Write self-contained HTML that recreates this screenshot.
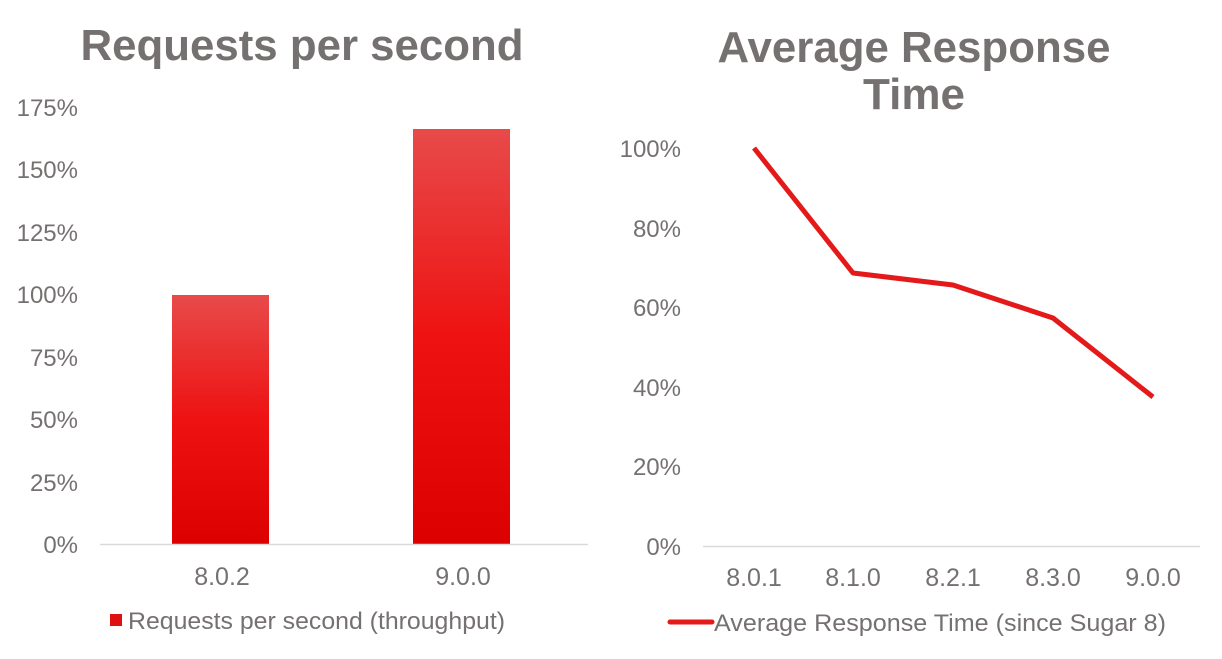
<!DOCTYPE html>
<html><head><style>
html,body{margin:0;padding:0;background:#fff;}
svg text{font-family:"Liberation Sans",Arial,sans-serif;}
</style></head><body>
<svg width="1222" height="654" viewBox="0 0 1222 654" xmlns="http://www.w3.org/2000/svg">
<defs>
<linearGradient id="g" x1="0" y1="0" x2="0" y2="1">
<stop offset="0" stop-color="#e84a4a"/>
<stop offset="0.5" stop-color="#ee1212"/>
<stop offset="1" stop-color="#dc0000"/>
</linearGradient>
</defs>
<!-- Left chart -->
<text x="302" y="60" text-anchor="middle" font-size="44" font-weight="bold" fill="#767171" textLength="443" lengthAdjust="spacingAndGlyphs">Requests per second</text>
<g font-size="24" fill="#767171" text-anchor="end">
<text x="78" y="116">175%</text>
<text x="78" y="178">150%</text>
<text x="78" y="241">125%</text>
<text x="78" y="303">100%</text>
<text x="78" y="366">75%</text>
<text x="78" y="428">50%</text>
<text x="78" y="491">25%</text>
<text x="78" y="553">0%</text>
</g>
<rect x="172" y="295" width="97" height="249" fill="url(#g)"/>
<rect x="413" y="129" width="97" height="415" fill="url(#g)"/>
<line x1="100" y1="544.5" x2="588" y2="544.5" stroke="#d9d9d9" stroke-width="1.5"/>
<g font-size="25" fill="#767171" text-anchor="middle">
<text x="222" y="585">8.0.2</text>
<text x="463" y="585">9.0.0</text>
</g>
<rect x="110" y="614" width="12" height="12" fill="#e01010"/>
<text x="128" y="629" font-size="24" fill="#767171" textLength="377" lengthAdjust="spacingAndGlyphs">Requests per second (throughput)</text>

<!-- Right chart -->
<text x="914" y="62" text-anchor="middle" font-size="44" font-weight="bold" fill="#767171" textLength="393" lengthAdjust="spacingAndGlyphs">Average Response</text>
<text x="914" y="109" text-anchor="middle" font-size="44" font-weight="bold" fill="#767171">Time</text>
<g font-size="24" fill="#767171" text-anchor="end">
<text x="681" y="157">100%</text>
<text x="681" y="237">80%</text>
<text x="681" y="316">60%</text>
<text x="681" y="396">40%</text>
<text x="681" y="475">20%</text>
<text x="681" y="555">0%</text>
</g>
<line x1="703" y1="546.5" x2="1200" y2="546.5" stroke="#d9d9d9" stroke-width="1.5"/>
<polyline points="754,148 853,273 953,285 1053,318 1153,397" fill="none" stroke="#e41a1a" stroke-width="5" stroke-linejoin="round"/>
<g font-size="25" fill="#767171" text-anchor="middle">
<text x="754" y="586">8.0.1</text>
<text x="853" y="586">8.1.0</text>
<text x="953" y="586">8.2.1</text>
<text x="1053" y="586">8.3.0</text>
<text x="1153" y="586">9.0.0</text>
</g>
<line x1="670" y1="622" x2="712" y2="622" stroke="#e41a1a" stroke-width="5" stroke-linecap="round"/>
<text x="714" y="631" font-size="24" fill="#767171" textLength="452" lengthAdjust="spacingAndGlyphs">Average Response Time (since Sugar 8)</text>
</svg>
</body></html>
